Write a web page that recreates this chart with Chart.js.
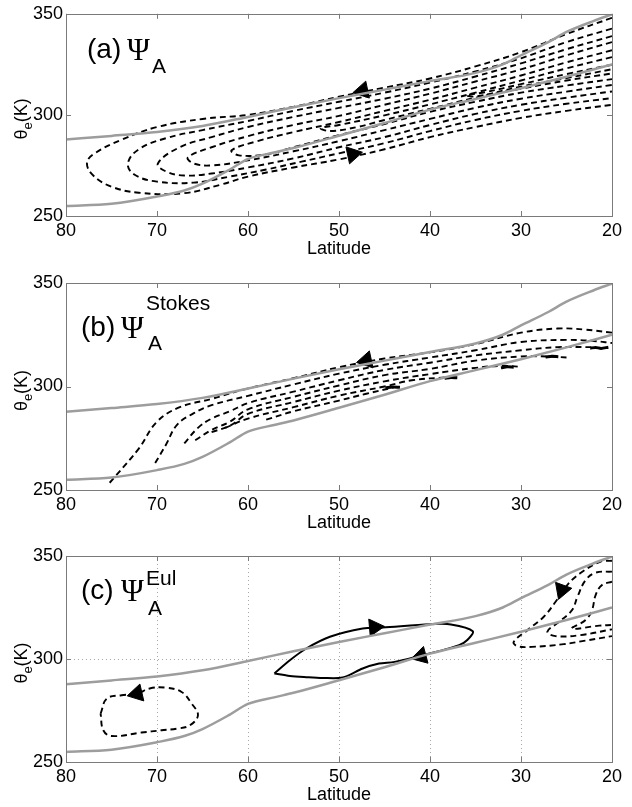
<!DOCTYPE html>
<html>
<head>
<meta charset="utf-8">
<script src="https://cdn.jsdelivr.net/npm/chart.js@4.4.1/dist/chart.umd.min.js"></script>
<style>
  html, body { margin: 0; padding: 0; background: #fff; overflow: hidden; }
  #wrap { position: relative; width: 632px; height: 807px; }
  #wrap canvas { position: absolute; left: 0; }
</style>
</head>
<body>
<div id="wrap">
  <canvas id="panelA" width="632" height="268" style="top:0px"></canvas>
  <canvas id="panelB" width="632" height="274" style="top:268px"></canvas>
  <canvas id="panelC" width="632" height="272" style="top:542px"></canvas>
</div>
<script>
// axis ticks
const latTicks = [80, 70, 60, 50, 40, 30, 20];
const thetaTicks = [250, 300, 350];

// gray bounding curves, [latitude, theta_e]
const upperEdge = [[80,287.8],[75,289.6],[70,291.5],[65,294.5],[60,299],[55,303.8],[50,308.3],[45,312.5],[40,316.7],[35,320.8],[32,325],[30,329.5],[27,336],[25,341],[22,346.5],[20,349.7]];
const lowerEdge = [[80,254.9],[75,256],[70,259.6],[67,262.6],[65,266],[62,273],[60,278.2],[57,281.5],[55,283.6],[50,289.7],[45,296],[40,302.6],[35,307.9],[30,313.2],[25,318.9],[20,325]];

// (a) total streamfunction contours
const psiA1 = [[20,348],[25,340],[30,331],[35,324],[40,318],[45,313.5],[50,309],[55,304],[60,300],[65,298],[70,294],[74,287.5],[77,280.5],[77.7,276],[77,270],[75,264.5],[72,261.5],[67,261.3],[63,265.5],[60,269.5],[55,274],[50,278],[45,283],[40,289],[35,294],[30,298.5],[25,302],[20,305]];
const psiA2 = [[20,342.7],[25,336],[30,328],[35,321.5],[40,316],[45,311],[50,306.5],[55,302],[60,297],[65,292.5],[69,288.5],[72,283],[73.2,276],[72.5,270.5],[70,267],[66,266.5],[62,269.5],[58,273],[54,277],[50,281],[45,286],[40,292],[35,297.5],[30,302],[25,305.5],[20,308.3]];
const psiA3 = [[20,339],[25,332.5],[30,325.5],[35,319],[40,313],[45,308],[50,303.5],[55,299],[60,294],[64,289],[67.5,284],[69.9,276],[69,272],[67,270],[64,271],[60,274],[55,278.5],[50,284],[45,289],[40,295],[35,300.5],[30,305],[25,308.5],[20,311.6]];
const psiA4 = [[20,336],[25,329.5],[30,322.5],[35,316.5],[40,310.5],[45,305],[50,299.5],[55,295],[60,289.5],[64,284],[66.6,279],[66,276],[64,275],[60,277.5],[55,282],[50,287],[45,292.5],[40,298],[35,303.5],[30,308],[25,311.5],[20,314.8]];
const psiA5 = [[20,332],[25,326],[30,319.5],[35,313.5],[40,307.5],[45,302],[50,296.5],[55,291.5],[59,287],[61.8,282.5],[61,280],[58,280.5],[55,284],[50,290],[45,295.5],[40,301.5],[35,306.5],[30,311],[25,314.5],[20,317.7]];
const psiA6 = [[20,328.6],[25,323],[30,317],[35,311],[40,305.2],[45,299.8],[50,295],[52,293.5],[51,292],[48,294],[45,297.5],[40,303],[35,308.5],[30,313],[25,317],[20,320.5]];
const psiA7 = [[20,324.8],[25,320.2],[30,315.2],[34,311.2],[36,309.7],[35,309.1],[30,314],[25,318.2],[20,322.6]];
const arrowsA = [[47.4,312],[48.5,280.5]];

// (b) Stokes part
const stokes1 = [[75.2,253.5],[74.5,257],[72,270],[70,283],[67.5,290],[64,294],[60.5,298.5],[55,304],[50,309.3],[45,313.5],[40,316.5],[35,320.5],[30,326],[26,328],[23,327.5],[20,326]];
const stokes2 = [[70.2,263],[69,272],[67.8,281.5],[66,287],[64,291],[60,295.5],[55,301],[50,306.2],[45,310.5],[40,314],[35,317.5],[30,321.5],[25,322.5],[22,322],[20,321]];
const stokes3 = [[67,272.5],[65.5,280],[64,284.5],[62,288],[60,292],[55,297.5],[50,303],[45,308],[40,311.5],[35,315],[30,317.5],[26,319],[22,319]];
const stokes4 = [[65.8,274],[64,279],[62,283],[60,289],[55,295],[50,300.5],[45,305.5],[40,308.5],[35,312.5],[30,314.5],[27,314.5],[25,314]];
const stokes5 = [[64,278],[62,281],[60,286.8],[55,292.5],[50,298],[45,302.5],[40,306],[35,309],[32,310],[30,309.5]];
const stokes6 = [[62.5,280],[60,284.5],[55,290],[50,295.6],[45,300],[42,303],[38,304.5]];
const stokes7 = [[58,284],[55,288],[50,293.2],[47,296.5],[44,299.5]];
const stokesBits = [
  [[44.9,299.3],[44.1,299.8],[43.3,299.6]],
  [[38.4,304.0],[37.7,304.4],[37.0,304.2]],
  [[32.2,309.0],[31.5,309.5],[30.8,309.3]],
  [[27.3,314.2],[26.6,314.6],[25.9,314.4]],
  [[22.4,318.5],[21.8,318.9],[21.2,318.4],[20.4,319.0]]
];
const arrowsB = [[47,312.6]];

// (c) Eulerian part
const eulSolid = [[57.1,293],[55.4,299.4],[53.6,305.1],[51,310.8],[47.4,314.8],[45.2,315.3],[40,316.9],[37.7,316.8],[35.3,313.5],[35.9,309.2],[36.8,306.7],[38.6,304.3],[40.8,301.9],[43.9,298.6],[45.6,297.8],[47.4,295.4],[49.6,291],[51.8,290.8],[53.6,291.2],[55.4,291.8],[57.1,293]];
const eulPolar = [[76.2,273.5],[75.5,280.8],[73.9,282.4],[72.2,283.2],[70.8,285.7],[69.1,286.1],[67.3,284],[66.2,278.4],[65.5,272.7],[66.4,267.8],[67.8,266.2],[69.5,265.4],[71.7,264.3],[75,262.6],[75.9,265.4],[76.2,273.5]];
const eulTrop1 = [[20,347.7],[21.3,347.2],[23.5,341.6],[24.9,336],[26.2,327.8],[27.5,320.5],[29.3,314],[30.8,308.3],[30.4,306.2],[28.8,305.9],[25.3,307.2],[23.1,308.8],[20,311.1]];
const eulTrop2 = [[20,342.4],[21.8,341.9],[22.9,338.3],[23.8,330.2],[24.4,323.7],[25.8,318.1],[27.1,313.2],[26.2,311.1],[23.5,311.6],[20,314.4]];
const eulTrop3 = [[20,337.5],[21.1,335.9],[21.8,331],[22.2,323.7],[22.9,318.9],[24.4,314.8],[21.4,316.2],[20,316.5]];
const arrowsC = [[46.1,315.4],[41,301.4],[72.2,283.2],[25.5,333.5]];

const SANS = "'Liberation Sans', Arial, Helvetica, sans-serif";
const SERIF = "'Liberation Serif', 'Times New Roman', serif";
const GRAY = '#9d9d9d';
const FRAME = '#7a7a7a';

const pts = arr => arr.map(([x, y]) => ({ x, y }));

function edge(arr) {
  return { data: pts(arr), showLine: true, borderColor: GRAY, borderWidth: 2.5,
           pointRadius: 0, cubicInterpolationMode: 'monotone' };
}
function dashed(arr) {
  return { data: pts(arr), showLine: true, borderColor: '#000', borderWidth: 1.9,
           borderDash: [6, 4], pointRadius: 0, tension: 0.4 };
}
function solid(arr, w) {
  return { data: pts(arr), showLine: true, borderColor: '#000', borderWidth: w,
           pointRadius: 0, tension: 0.3 };
}
function arrows(arr, rot) {
  return { data: pts(arr), showLine: false, pointStyle: 'triangle', pointRadius: 10,
           rotation: c => rot[c.dataIndex], backgroundColor: '#000', borderColor: '#000',
           borderWidth: 1 };
}

// frame, inside ticks, dotted grid, panel tag and y label
const decor = {
  id: 'decor',
  beforeDatasetsDraw(chart, args, o) {
    if (!o.grid) return;
    const { ctx, chartArea: a, scales: { x, y } } = chart;
    ctx.save();
    ctx.strokeStyle = '#a8a8a8';
    ctx.lineWidth = 1;
    ctx.setLineDash([1, 3]);
    latTicks.slice(1, -1).forEach(v => {
      const px = Math.round(x.getPixelForValue(v)) + 0.5;
      ctx.beginPath(); ctx.moveTo(px, a.top); ctx.lineTo(px, a.bottom); ctx.stroke();
    });
    const py = Math.round(y.getPixelForValue(300)) + 0.5;
    ctx.beginPath(); ctx.moveTo(a.left, py); ctx.lineTo(a.right, py); ctx.stroke();
    ctx.restore();
  },
  afterDraw(chart, args, o) {
    const { ctx, chartArea: a, scales: { x, y } } = chart;
    ctx.save();
    ctx.strokeStyle = FRAME;
    ctx.lineWidth = 1;
    ctx.strokeRect(Math.round(a.left) + 0.5, Math.round(a.top) + 0.5,
                   Math.round(a.right - a.left), Math.round(a.bottom - a.top));
    ctx.beginPath();
    latTicks.forEach(v => {
      const px = Math.round(x.getPixelForValue(v)) + 0.5;
      ctx.moveTo(px, a.bottom); ctx.lineTo(px, a.bottom - 5);
      ctx.moveTo(px, a.top); ctx.lineTo(px, a.top + 5);
    });
    thetaTicks.forEach(v => {
      const py = Math.round(y.getPixelForValue(v)) + 0.5;
      ctx.moveTo(a.left, py); ctx.lineTo(a.left + 5, py);
      ctx.moveTo(a.right, py); ctx.lineTo(a.right - 5, py);
    });
    ctx.stroke();

    // panel tag
    ctx.fillStyle = '#000';
    ctx.textBaseline = 'alphabetic';
    ctx.textAlign = 'left';
    const L = a.left, T = a.top;
    ctx.font = '28px ' + SANS;
    ctx.fillText(o.tag, L + o.tagPos[0], T + o.tagPos[1]);
    ctx.font = '31px ' + SERIF;
    ctx.fillText('\u03A8', L + o.psiPos[0], T + o.psiPos[1]);
    ctx.font = '21px ' + SANS;
    ctx.fillText('A', L + o.subPos[0], T + o.subPos[1]);
    if (o.sup) ctx.fillText(o.sup, L + o.supPos[0], T + o.supPos[1]);

    // y axis label: theta_e (K)
    ctx.font = '18px ' + SANS;
    const w1 = ctx.measureText('\u03B8').width;
    ctx.font = '13px ' + SANS;
    const w2 = ctx.measureText('e').width;
    ctx.font = '18px ' + SANS;
    const w3 = ctx.measureText('(K)').width;
    const total = w1 + w2 + w3;
    ctx.translate(27, (a.top + a.bottom) / 2 + 4 + total / 2);
    ctx.rotate(-Math.PI / 2);
    ctx.fillText('\u03B8', 0, 0);
    ctx.font = '13px ' + SANS;
    ctx.fillText('e', w1, 5);
    ctx.font = '18px ' + SANS;
    ctx.fillText('(K)', w1 + w2, 0);
    ctx.restore();
  }
};

function panel(id, padTop, datasets, deco) {
  const font = { family: SANS, size: 18 };
  return new Chart(document.getElementById(id), {
    type: 'scatter',
    data: { datasets },
    plugins: [decor],
    options: {
      responsive: false,
      animation: false,
      events: [],
      layout: { padding: { top: padTop, right: 20, left: 0, bottom: 0 } },
      plugins: { legend: { display: false }, tooltip: { enabled: false }, decor: deco },
      scales: {
        x: {
          type: 'linear', reverse: true, min: 20, max: 80,
          afterBuildTicks: s => { s.ticks = latTicks.map(v => ({ value: v })); },
          afterFit: s => { s.height = 52; },
          ticks: { font, color: '#000', padding: 4, maxRotation: 0, autoSkip: false },
          grid: { display: false, drawTicks: false },
          border: { display: false },
          title: { display: true, text: 'Latitude', font, color: '#000', padding: { top: 0, bottom: 8 } }
        },
        y: {
          type: 'linear', min: 250, max: 350,
          afterBuildTicks: s => { s.ticks = thetaTicks.map(v => ({ value: v })); },
          afterFit: s => { s.width = 66; },
          ticks: { font, color: '#000', padding: 3 },
          grid: { display: false, drawTicks: false },
          border: { display: false }
        }
      }
    }
  });
}

panel('panelA', 11, [
  edge(upperEdge), edge(lowerEdge),
  dashed(psiA1), dashed(psiA2), dashed(psiA3), dashed(psiA4),
  dashed(psiA5), dashed(psiA6), dashed(psiA7),
  arrows(arrowsA, [258, 78])
], { tag: '(a)', tagPos: [21, 44], psiPos: [61, 46], subPos: [86, 59] });

panel('panelB', 15, [
  edge(upperEdge), edge(lowerEdge),
  dashed(stokes1), dashed(stokes2), dashed(stokes3), dashed(stokes4),
  dashed(stokes5), dashed(stokes6), dashed(stokes7),
  ...stokesBits.map(b => solid(b, 3)),
  arrows(arrowsB, [258])
], { tag: '(b)', tagPos: [15, 53], psiPos: [55, 55], subPos: [82, 67], sup: 'Stokes', supPos: [80, 27] });

panel('panelC', 14, [
  edge(upperEdge), edge(lowerEdge),
  solid(eulSolid, 2),
  dashed(eulPolar), dashed(eulTrop1), dashed(eulTrop2), dashed(eulTrop3),
  arrows(arrowsC, [85, 255, 257, 200])
], { tag: '(c)', tagPos: [15, 43], psiPos: [55, 45], subPos: [82, 59], sup: 'Eul', supPos: [80, 29], grid: true });
</script>
</body>
</html>
